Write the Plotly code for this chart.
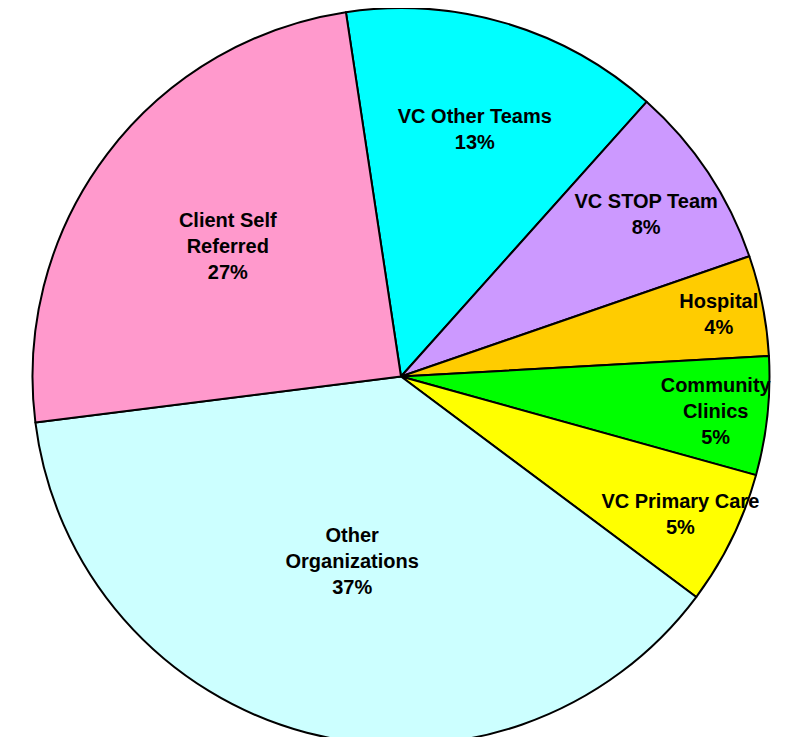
import plotly.graph_objects as go

labels = ["VC Other Teams", "VC STOP Team", "Hospital", "Community<br>Clinics",
          "VC Primary Care", "Other<br>Organizations", "Client Self<br>Referred"]
values = [14.0, 8.1, 4.4, 5.2, 5.9, 37.8, 24.6]
pct_labels = ["13%", "8%", "4%", "5%", "5%", "37%", "27%"]
colors = ["#00FFFF", "#CC99FF", "#FFCC00", "#00FF00", "#FFFF00", "#CCFFFF", "#FF99CC"]

fig = go.Figure(go.Pie(
    labels=labels,
    values=values,
    text=pct_labels,
    texttemplate="<b>%{label}<br>%{text}</b>",
    textposition="inside",
    insidetextorientation="horizontal",
    sort=False,
    direction="clockwise",
    rotation=-8.6,
    marker=dict(colors=colors, line=dict(color="black", width=2)),
    textfont=dict(family="Liberation Sans, Arial, sans-serif", size=20, color="black"),
    domain=dict(x=[(393 - 368.5) / 790, (393 + 368.5) / 790], y=[0, 1]),
    hoverinfo="label+text",
    showlegend=False,
))
fig.update_layout(
    width=790, height=737,
    margin=dict(l=0, r=0, t=0, b=0),
    paper_bgcolor="white",
    uniformtext=dict(minsize=20, mode="show"),
)
fig.write_html("out.html")
